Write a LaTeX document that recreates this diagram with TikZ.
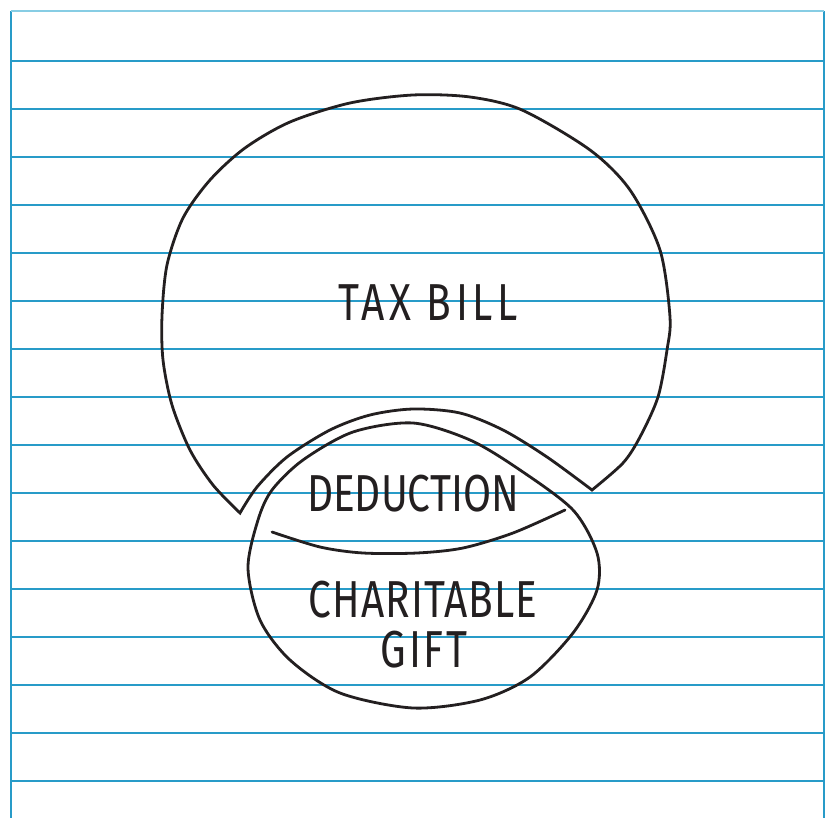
\documentclass[tikz,border=0pt]{standalone}
\usepackage{fontspec}
\newfontfamily\handfont[FakeStretch=0.78]{Fira Sans}
\definecolor{inkblack}{RGB}{35,31,32}
\definecolor{paperblue}{RGB}{40,155,200}
\definecolor{paperlight}{RGB}{135,205,228}
\tikzset{
  ink/.style={draw=inkblack, line width=2.8pt, line join=round},
  ruling/.style={draw=paperblue, line width=1.1pt},
  hand/.style={font=\handfont\fontsize{52}{56}\selectfont, text=inkblack, inner sep=0pt}
}
\begin{document}
\begin{tikzpicture}[x=1pt,y=-1pt]
\useasboundingbox (0,0) rectangle (830,818);

%% Paper
\fill[white] (0,0) rectangle (830,818);
\foreach \y in {61,109,...,781} \draw[ruling] (11,\y) -- (824,\y);
\draw[ruling] (11,11) -- (11,818);
\draw[ruling] (824,11) -- (824,818);
\draw[ruling, draw=paperlight] (11,11) -- (824,11);

%% Tax bill
\draw[ink, line join=miter] plot[smooth] coordinates {(240,513) (213,485) (190,450) (172,405) (163,360) (162,316) (167,265) (183,218) (210,180) (245,148) (290,122) (350,103) (413,95) (470,97) (522,110) (590,150) (630,190) (660,250) (670,317) (667,350) (658,397) (640,437) (623,463) (592,490)}
  -- plot[smooth] coordinates {(592,490) (547,457) (503,430) (460,413) (413,409) (370,415) (330,430) (287,457) (257,487) (240,513)} -- cycle;

%% Charitable gift
\draw[ink] plot[smooth cycle] coordinates {(413,423) (470,440) (520,470) (573,510) (597,553) (597,590) (573,633) (530,677) (480,700) (413,708) (340,693) (290,660) (260,620) (248,568) (258,520) (272,490) (303,460) (353,432)};

%% Deduction part
\draw[ink, line cap=round] plot[smooth] coordinates {(272,532) (320,547) (363,553) (417,553) (463,548) (513,533) (565,510)};

%% Labels
\node[hand] (taxbill) at (428,303) {\addfontfeatures{LetterSpace=9}TAX BILL};
\node[hand] (deduction) at (413,494) {DEDUCTION};
\node[hand] (charitable) at (423,600) {\addfontfeatures{LetterSpace=2}CHARITABLE};
\node[hand] (gift) at (424,650) {\addfontfeatures{LetterSpace=5}GIFT};

\end{tikzpicture}
\end{document}
